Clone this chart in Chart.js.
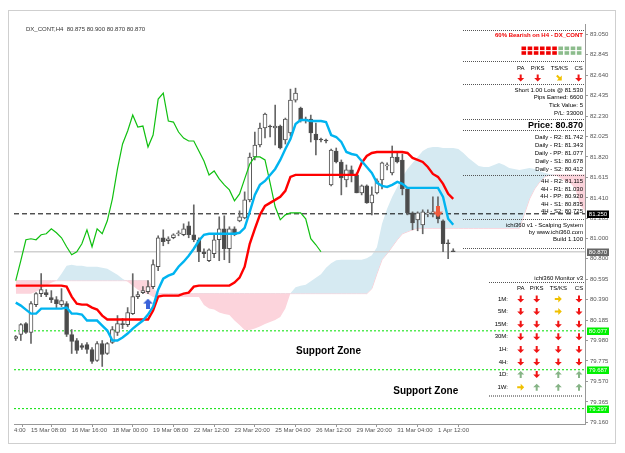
<!DOCTYPE html>
<html>
<head>
<meta charset="utf-8">
<script src="https://cdn.jsdelivr.net/npm/chart.js@4.4.1/dist/chart.umd.min.js"></script>
<style>
  html, body { margin: 0; padding: 0; background: #fff; }
  #chart { display: block; }
</style>
</head>
<body>
<canvas id="chart" width="625" height="453"></canvas>
<script>
// H4 bars, index 8 = 15 Mar 08:00; first visible bar is 5
const firstBar = 5;
const opens = [
  80.00, 80.04, 80.15, 80.06, 80.34, 80.45, 80.46, 80.41, 80.39, 80.34,
  80.35, 80.04, 79.98, 79.93, 79.94, 79.89, 79.78, 79.95, 79.85, 79.96,
  80.06, 80.15, 80.14, 80.25, 80.42, 80.46, 80.47, 80.52, 80.72, 81.01,
  80.98, 81.01, 81.05, 81.04, 81.13, 81.04, 80.99, 80.87, 80.78, 80.85,
  80.99, 81.10, 80.90, 81.10, 81.18, 81.21, 81.39, 81.82, 81.94, 82.11,
  82.13, 82.11, 82.13, 81.99, 82.06, 82.39, 82.31, 82.19, 82.20, 82.05,
  82.00, 81.99, 81.54, 81.88, 81.77, 81.59, 81.69, 81.64, 81.46, 81.53,
  81.36, 81.46, 81.59, 81.73, 81.66, 81.82, 81.79, 81.50, 81.26, 81.19,
  81.14, 81.25, 81.255, 81.27, 81.18, 80.96, 80.875
];
const highs = [
  80.03, 80.15, 80.16, 80.37, 80.46, 80.65, 80.49, 80.48, 80.42, 80.50,
  80.37, 80.09, 80.00, 79.95, 79.96, 79.91, 79.97, 79.98, 79.96, 80.12,
  80.23, 80.20, 80.31, 80.65, 80.47, 80.52, 80.58, 80.79, 81.03, 81.09,
  81.02, 81.05, 81.08, 81.15, 81.17, 81.34, 81.01, 80.90, 80.90, 81.04,
  81.22, 81.23, 81.12, 81.12, 81.28, 81.47, 81.86, 82.07, 82.16, 82.26,
  82.14, 82.34, 82.14, 82.21, 82.50, 82.51, 82.32, 82.22, 82.24, 82.16,
  82.01, 82.00, 81.90, 81.91, 81.79, 81.74, 81.73, 81.66, 81.54, 81.54,
  81.52, 81.60, 81.77, 81.76, 81.93, 81.86, 81.85, 81.51, 81.27, 81.27,
  81.29, 81.29, 81.42, 81.42, 81.19, 80.99, 80.90
];
const lows = [
  79.98, 79.98, 80.05, 79.95, 80.32, 80.42, 80.42, 80.36, 80.31, 80.32,
  80.02, 79.85, 79.85, 79.89, 79.85, 79.75, 79.77, 79.72, 79.84, 79.95,
  80.03, 80.10, 80.12, 80.24, 80.40, 80.45, 80.45, 80.50, 80.68, 80.93,
  80.95, 81.00, 81.03, 81.03, 81.01, 80.97, 80.77, 80.81, 80.77, 80.81,
  80.78, 80.79, 80.76, 81.03, 81.17, 81.20, 81.37, 81.79, 81.92, 82.01,
  82.02, 81.94, 81.90, 81.95, 82.03, 82.37, 82.17, 82.16, 81.97, 81.84,
  81.97, 81.96, 81.53, 81.76, 81.44, 81.52, 81.57, 81.46, 81.44, 81.355,
  81.24, 81.45, 81.50, 81.69, 81.64, 81.76, 81.44, 81.24, 81.09, 81.08,
  81.05, 81.22, 81.22, 81.16, 80.87, 80.80, 80.87
];
const closes = [
  80.02, 80.14, 80.06, 80.35, 80.45, 80.49, 80.44, 80.39, 80.35, 80.38,
  80.04, 79.97, 79.88, 79.91, 79.89, 79.77, 79.95, 79.84, 79.95, 80.09,
  80.15, 80.14, 80.26, 80.42, 80.44, 80.48, 80.52, 80.74, 81.01, 80.97,
  81.00, 81.04, 81.06, 81.10, 81.04, 80.99, 80.87, 80.85, 80.89, 80.99,
  81.10, 80.90, 81.10, 81.04, 81.22, 81.39, 81.82, 81.94, 82.11, 82.25,
  82.12, 82.13, 81.91, 82.20, 82.39, 82.46, 82.19, 82.20, 82.06, 81.99,
  81.99, 81.98, 81.89, 81.77, 81.61, 81.69, 81.64, 81.46, 81.53, 81.36,
  81.44, 81.58, 81.76, 81.74, 81.82, 81.77, 81.50, 81.26, 81.16, 81.26,
  81.27, 81.26, 81.27, 81.20, 80.95, 80.95, 80.87
];
// Ichimoku lines (same bars as candles)
const tenkan = [
  80.36, 80.33, 80.29, 80.25, 80.25, 80.30, 80.30, 80.30, 80.30, 80.30,
  80.31, 80.25, 80.25, 80.24, 80.18, 80.18, 80.18, 80.13, 80.08, 79.98,
  79.98, 80.01, 80.05, 80.10, 80.14, 80.18, 80.24, 80.32, 80.49, 80.60,
  80.63, 80.65, 80.72, 80.77, 80.83, 80.90, 80.98, 81.04, 81.05, 81.05,
  81.05, 81.05, 81.05, 81.05, 81.06, 81.11, 81.27, 81.44, 81.54, 81.58,
  81.64, 81.70, 81.79, 81.90, 82.00, 82.15, 82.19, 82.19, 82.18, 82.18,
  82.18, 82.17, 82.04, 82.02, 81.97, 81.87, 81.85, 81.84, 81.78, 81.72,
  81.66, 81.56, 81.53, 81.52, 81.54, 81.57, 81.55, 81.51, 81.51, 81.51,
  81.51, 81.51, 81.51, 81.51, 81.42, 81.20, 81.14
];
const kijun = [
  80.53, 80.53, 80.53, 80.53, 80.53, 80.53, 80.53, 80.53, 80.53, 80.53,
  80.52, 80.42, 80.35, 80.34, 80.34, 80.31, 80.29, 80.23, 80.19, 80.19,
  80.19, 80.19, 80.19, 80.19, 80.19, 80.19, 80.19, 80.28, 80.42, 80.43,
  80.43, 80.43, 80.43, 80.45, 80.46, 80.52, 80.53, 80.53, 80.53, 80.53,
  80.53, 80.53, 80.53, 80.56, 80.61, 80.72, 80.95, 81.10, 81.24, 81.33,
  81.36, 81.39, 81.42, 81.48, 81.62, 81.64, 81.64, 81.64, 81.64, 81.64,
  81.64, 81.64, 81.64, 81.64, 81.64, 81.64, 81.64, 81.64, 81.76, 81.83,
  81.86, 81.87, 81.87, 81.87, 81.87, 81.87, 81.87, 81.86, 81.81, 81.79,
  81.77, 81.72, 81.65, 81.62, 81.55, 81.45, 81.40
];
// lagging span, bars 5..65
const chikou = [
  80.58, 80.78, 80.99, 81.00, 80.99, 81.04, 81.05, 81.10, 81.06, 81.01,
  80.92, 80.84, 80.87, 80.95, 81.09, 80.92, 81.10, 81.05, 81.18, 81.40,
  81.70, 81.95, 82.08, 82.24, 82.12, 82.13, 81.92, 82.04, 82.40, 82.46,
  82.18, 82.17, 82.07, 82.01, 81.98, 81.98, 81.88, 81.78, 81.64, 81.68,
  81.60, 81.54, 81.49, 81.38, 81.45, 81.60, 81.75, 81.82, 81.82, 81.79,
  81.56, 81.32, 81.19, 81.24, 81.26, 81.26, 81.26, 81.20, 81.00, 80.94,
  80.87
];
// cloud spans, bars 5..117
const spanA = [
  80.45, 80.45, 80.45, 80.45, 80.47, 80.50, 80.53, 80.56, 80.58, 80.65,
  80.73, 80.74, 80.73, 80.73, 80.72, 80.72, 80.72, 80.71, 80.70, 80.67,
  80.64, 80.60, 80.57, 80.53, 80.49, 80.46, 80.445, 80.415, 80.415, 80.415,
  80.415, 80.415, 80.415, 80.415, 80.415, 80.415, 80.415, 80.335, 80.30, 80.29,
  80.26, 80.245, 80.235, 80.18, 80.135, 80.085, 80.085, 80.10, 80.12, 80.145,
  80.165, 80.185, 80.215, 80.30, 80.455, 80.515, 80.53, 80.54, 80.575, 80.61,
  80.645, 80.71, 80.755, 80.785, 80.79, 80.79, 80.79, 80.79, 80.79, 80.805,
  80.835, 80.915, 81.15, 81.30, 81.42, 81.52, 81.62, 81.70, 81.76, 81.82,
  81.88, 81.91, 81.92, 81.92, 81.91, 81.91, 81.91, 81.90, 81.86, 81.81,
  81.77, 81.73, 81.72, 81.72, 81.74, 81.76, 81.74, 81.71, 81.70, 81.69,
  81.70, 81.71, 81.70, 81.68, 81.66, 81.65, 81.64, 81.61, 81.58, 81.56,
  81.50, 81.33, 81.27
];
const spanB = [
  80.58, 80.58, 80.58, 80.58, 80.58, 80.58, 80.58, 80.58, 80.58, 80.58,
  80.58, 80.58, 80.58, 80.58, 80.58, 80.58, 80.58, 80.58, 80.58, 80.58,
  80.58, 80.58, 80.58, 80.58, 80.58, 80.58, 80.58, 80.50, 80.45, 80.45,
  80.45, 80.45, 80.45, 80.45, 80.45, 80.45, 80.45, 80.45, 80.45, 80.45,
  80.45, 80.45, 80.45, 80.45, 80.45, 80.45, 80.45, 80.45, 80.45, 80.45,
  80.45, 80.45, 80.45, 80.45, 80.45, 80.45, 80.45, 80.45, 80.45, 80.45,
  80.45, 80.45, 80.45, 80.45, 80.45, 80.45, 80.45, 80.45, 80.45, 80.45,
  80.50, 80.65, 80.79, 80.85, 80.92, 80.99, 81.05, 81.07, 81.09, 81.105,
  81.105, 81.105, 81.105, 81.105, 81.105, 81.105, 81.105, 81.105, 81.105, 81.105,
  81.105, 81.105, 81.105, 81.105, 81.105, 81.105, 81.105, 81.105, 81.105, 81.105,
  81.25, 81.40, 81.50, 81.57, 81.62, 81.64, 81.64, 81.64, 81.64, 81.64,
  81.64, 81.64, 81.64
];

// axis ticks
const xMin = 4.66, xMax = 116.9;
const xTickBars = [4.66, 8, 16, 24, 32, 40, 48, 56, 64, 72, 80, 88];
const xTickLabels = ['4:00', '15 Mar 08:00', '16 Mar 16:00', '18 Mar 00:00', '19 Mar 08:00', '22 Mar 12:00',
  '23 Mar 20:00', '25 Mar 04:00', '26 Mar 12:00', '29 Mar 20:00', '31 Mar 04:00', '1 Apr 12:00'];
const yMin = 79.143, yMax = 83.153;
const yTicks = [83.050, 82.845, 82.640, 82.435, 82.230, 82.025, 81.820, 81.615, 81.410, 81.205,
  81.000, 80.800, 80.595, 80.390, 80.185, 79.980, 79.775, 79.570, 79.365, 79.160];

// horizontal levels and their tags on the price axis
const stopLevel = 81.250;
const bidLevel = 80.870;
const supportLevels = [80.077, 79.687, 79.297];

// signal arrows
const buySignal = { bar: 31, price: 80.35 };
const sellSignal = { bar: 88, price: 81.27 };

// text objects
const supportLabels = [{ bar: 60.1, price: 79.877 }, { bar: 79.2, price: 79.476 }];

// panel data
const trendCells = ['r', 'r', 'r', 'r', 'r', 'r', 'g', 'g', 'g', 'g'];
const headerSignals = ['d', 'd', 'dr', 'd'];
const monitorRows = ['1M:', '5M:', '15M:', '30M:', '1H:', '4H:', '1D:', '1W:'];
const monitorSignals = [
  ['d', 'd', 'r', 'd'],
  ['d', 'd', 'r', 'd'],
  ['d', 'd', 'd', 'd'],
  ['d', 'd', 'd', 'd'],
  ['d', 'd', 'd', 'd'],
  ['d', 'd', 'd', 'd'],
  ['u', 'd', 'u', 'u'],
  ['r', 'u', 'u', 'u']
];
const tradeLines = ['Short 1.00 Lots @ 81.530', 'Pips Earned: 6600', 'Tick Value: 5', 'P/L: 33000'];
const dailyPivots = ['Daily - R2: 81.742', 'Daily - R1: 81.343', 'Daily - PP: 81.077', 'Daily - S1: 80.678', 'Daily - S2: 80.412'];
const h4Pivots = ['4H - R2: 81.115', '4H - R1: 81.030', '4H - PP: 80.920', '4H - S1: 80.835', '4H - S2: 80.725'];

const FAM = '"Liberation Sans", Arial, sans-serif';
Chart.defaults.font.family = FAM;

function series(values, start) {
  return values.map((v, k) => ({ x: start + k, y: v }));
}

function arrowImage(color, dir, w, h) {
  const c = document.createElement('canvas');
  c.width = w; c.height = h;
  const g = c.getContext('2d');
  g.translate(w / 2, h / 2);
  if (dir === 'up') g.rotate(Math.PI);
  g.beginPath();
  g.moveTo(-w * 0.2, -h / 2); g.lineTo(w * 0.2, -h / 2); g.lineTo(w * 0.2, 0);
  g.lineTo(w / 2, 0); g.lineTo(0, h / 2); g.lineTo(-w / 2, 0); g.lineTo(-w * 0.2, 0);
  g.closePath();
  g.fillStyle = color;
  g.fill();
  return c;
}

function drawArrow(ctx, cx, cy, kind) {
  const colors = { d: '#f01414', dr: '#f0c000', r: '#f0c000', u: '#86b486' };
  const angles = { d: 0, dr: -Math.PI / 4, r: -Math.PI / 2, u: Math.PI };
  const s = 3.5;
  ctx.save();
  ctx.translate(cx, cy);
  ctx.rotate(angles[kind]);
  ctx.beginPath();
  ctx.moveTo(-1, -s); ctx.lineTo(1, -s); ctx.lineTo(1, 0); ctx.lineTo(s, 0);
  ctx.lineTo(0, s); ctx.lineTo(-s, 0); ctx.lineTo(-1, 0);
  ctx.closePath();
  ctx.fillStyle = colors[kind];
  ctx.fill();
  ctx.restore();
}

function text(ctx, s, x, y, align, font, color) {
  ctx.font = font;
  ctx.fillStyle = color;
  ctx.textAlign = align;
  ctx.textBaseline = 'middle';
  ctx.fillText(s, x, y);
}

function dotted(ctx, x1, x2, y, color, width) {
  ctx.save();
  ctx.strokeStyle = color;
  ctx.lineWidth = width || 1;
  ctx.setLineDash([1, 1]);
  ctx.beginPath();
  ctx.moveTo(x1, y + 0.5);
  ctx.lineTo(x2, y + 0.5);
  ctx.stroke();
  ctx.restore();
}

const terminalPlugin = {
  id: 'terminal',
  beforeDraw(chart) {
    const ctx = chart.ctx;
    ctx.save();
    ctx.fillStyle = '#fff';
    ctx.fillRect(0, 0, chart.width, chart.height);
    ctx.strokeStyle = '#cfcfcf';
    ctx.lineWidth = 1;
    ctx.strokeRect(8.5, 10.5, 607, 433);
    ctx.restore();
  },
  afterDraw(chart) {
    const ctx = chart.ctx;
    const xs = chart.scales.x, ys = chart.scales.y;
    const small = '6px ' + FAM;
    const R = 583;
    ctx.save();

    text(ctx, 'DX_CONT,H4  80.875 80.900 80.870 80.870', 26, 29, 'left', small, '#333');

    // panel separators
    [30, 61, 84, 119, 130, 175, 219, 248].forEach(yy => dotted(ctx, 463, 585, yy, '#555'));
    dotted(ctx, 489, 584, 282, '#555');
    dotted(ctx, 489, 583, 395.5, '#999', 2);

    text(ctx, '60% Bearish on H4 - DX_CONT', R, 35.5, 'right', 'bold 6px ' + FAM, '#f00000');
    trendCells.forEach((c, k) => {
      ctx.fillStyle = c === 'r' ? '#f00000' : '#8cbc8c';
      ctx.fillRect(521.5 + k * 6.15, 46.5, 4.6, 3.6);
      ctx.fillRect(521.5 + k * 6.15, 51.2, 4.6, 3.6);
    });

    const cols = [520.7, 537.7, 559.3, 578.6];
    ['PA', 'P/KS', 'TS/KS', 'CS'].forEach((h, k) => text(ctx, h, cols[k], 68, 'center', small, '#000'));
    headerSignals.forEach((s, k) => drawArrow(ctx, cols[k], 78, s));

    tradeLines.forEach((s, k) => text(ctx, s, R, 90 + k * 7.7, 'right', small, '#000'));
    text(ctx, 'Price: 80.870', R, 125.5, 'right', 'bold 9px ' + FAM, '#000');
    dailyPivots.forEach((s, k) => text(ctx, s, R, 137.7 + k * 7.8, 'right', small, '#000'));
    h4Pivots.forEach((s, k) => text(ctx, s, R, 181.7 + k * 7.5, 'right', small, '#000'));
    text(ctx, 'ichi360 v1 - Scalping System', R, 225.7, 'right', small, '#000');
    text(ctx, 'by www.ichi360.com', R, 232.4, 'right', small, '#000');
    text(ctx, 'Build 1.100', R, 239.1, 'right', small, '#000');

    text(ctx, 'ichi360 Monitor v3', R, 278.3, 'right', small, '#000');
    const mcols = [520.7, 536.7, 558.3, 579];
    ['PA', 'P/KS', 'TS/KS', 'CS'].forEach((h, k) => text(ctx, h, mcols[k], 288.3, 'center', small, '#000'));
    monitorRows.forEach((lab, r) => {
      const yy = 299 + r * 12.6;
      text(ctx, lab, 508, yy, 'right', small, '#000');
      monitorSignals[r].forEach((s, k) => drawArrow(ctx, mcols[k], yy, s));
    });

    // support zone texts
    supportLabels.forEach(p => {
      text(ctx, 'Support Zone', xs.getPixelForValue(p.bar), ys.getPixelForValue(p.price), 'left', 'bold 10px ' + FAM, '#000');
    });

    // price tags on the axis
    const tag = (v, bg) => {
      const yy = Math.round(ys.getPixelForValue(v));
      ctx.fillStyle = bg;
      ctx.fillRect(587, yy - 3.5, 22, 7.5);
      text(ctx, v.toFixed(3), 598, yy + 0.3, 'center', small, '#fff');
    };
    tag(stopLevel, '#000');
    tag(bidLevel, '#666');
    supportLevels.forEach(v => tag(v, '#00f000'));
    ctx.restore();
  }
};

const wickData = opens.map((o, k) => ({ x: firstBar + k, y: [lows[k], highs[k]] }));
const bodyData = opens.map((o, k) => ({ x: firstBar + k, y: [o, closes[k]] }));
const bodyFill = opens.map((o, k) => closes[k] >= o ? '#ffffff' : '#4a4a4a');
const flat = v => [{ x: xMin, y: v }, { x: xMax, y: v }];

const datasets = [
  { type: 'line', label: 'Senkou B', data: series(spanB, firstBar), borderColor: '#f9cdd5', borderWidth: 1,
    pointRadius: 0, order: 20 },
  { type: 'line', label: 'Senkou A', data: series(spanA, firstBar), borderWidth: 0, pointRadius: 0, order: 19,
    fill: { target: 0, above: 'rgb(214,234,242)', below: 'rgb(252,212,220)' } },
  { type: 'line', label: 'stop', data: flat(stopLevel), borderColor: '#000', borderWidth: 1, borderDash: [5, 3],
    pointRadius: 0, order: 15 },
  { type: 'line', label: 'bid', data: flat(bidLevel), borderColor: '#d0d0d0', borderWidth: 1.5, pointRadius: 0, order: 15 },
  ...supportLevels.map(v => ({ type: 'line', label: 'sup', data: flat(v), borderColor: '#00e000', borderWidth: 1,
    borderDash: [2, 2], pointRadius: 0, order: 15 })),
  { type: 'bar', label: 'wick', data: wickData, backgroundColor: '#666', barThickness: 1, order: 10 },
  { type: 'bar', label: 'body', data: bodyData, backgroundColor: bodyFill, borderColor: '#505050', borderWidth: 1,
    borderSkipped: false, barThickness: 4, minBarLength: 1, order: 9 },
  { type: 'line', label: 'Chikou', data: series(chikou, firstBar), borderColor: '#10c010', borderWidth: 1.2,
    pointRadius: 0, order: 6 },
  { type: 'line', label: 'Kijun', data: series(kijun, firstBar), borderColor: '#ff0000', borderWidth: 2.4,
    pointRadius: 0, order: 5 },
  { type: 'line', label: 'Tenkan', data: series(tenkan, firstBar), borderColor: '#00b4f0', borderWidth: 2.4,
    pointRadius: 0, order: 4 },
  { type: 'line', label: 'buy', data: [{ x: buySignal.bar, y: buySignal.price }], showLine: false,
    pointStyle: arrowImage('#3a62d8', 'up', 10, 10), order: 1 },
  { type: 'line', label: 'sell', data: [{ x: sellSignal.bar, y: sellSignal.price }], showLine: false,
    pointStyle: arrowImage('#f05a3c', 'down', 10, 11), order: 1 }
];

new Chart(document.getElementById('chart'), {
  type: 'bar',
  data: { datasets },
  options: {
    responsive: false,
    animation: false,
    devicePixelRatio: 1,
    layout: { padding: { left: 14, top: 24, right: 0, bottom: 0 } },
    datasets: { bar: { grouped: false }, line: { tension: 0 } },
    plugins: { legend: { display: false }, tooltip: { enabled: false } },
    scales: {
      x: {
        type: 'linear', min: xMin, max: xMax, offset: false,
        afterBuildTicks: s => { s.ticks = xTickBars.map(v => ({ value: v })); },
        afterFit: s => { s.height = 29; },
        ticks: { autoSkip: false, maxRotation: 0, minRotation: 0, align: 'start', padding: 0, color: '#555',
          font: { size: 6 }, callback: (v, i) => xTickLabels[i] },
        grid: { drawOnChartArea: false, tickLength: 3, color: '#999' },
        border: { color: '#999' }
      },
      y: {
        type: 'linear', position: 'right', min: yMin, max: yMax,
        afterBuildTicks: s => { s.ticks = yTicks.map(v => ({ value: v })); },
        afterFit: s => { s.width = 40; },
        ticks: { padding: 2, color: '#555', font: { size: 6 }, callback: v => v.toFixed(3) },
        grid: { drawOnChartArea: false, tickLength: 3, color: '#999' },
        border: { color: '#999' }
      }
    }
  },
  plugins: [terminalPlugin]
});
</script>
</body>
</html>
